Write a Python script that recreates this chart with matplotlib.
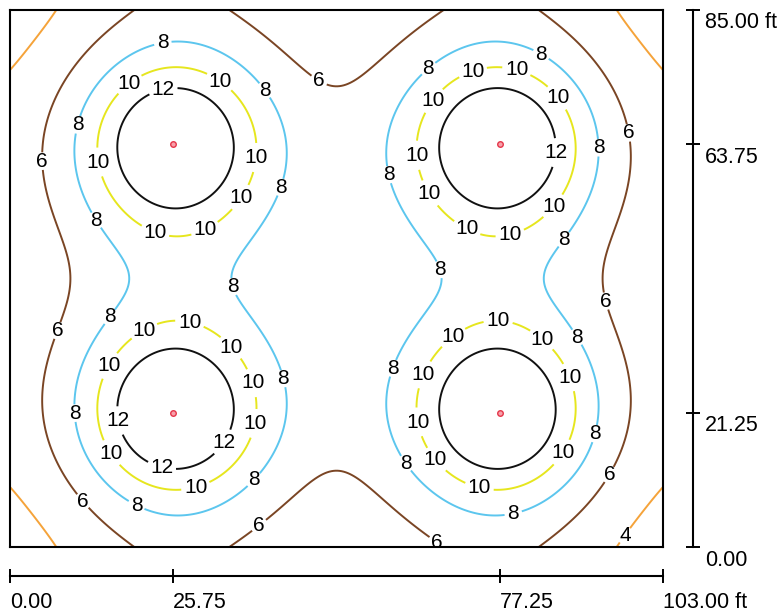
import numpy as np
import matplotlib
matplotlib.use("Agg")
import matplotlib.pyplot as plt
from matplotlib.transforms import offset_copy

plt.rcParams['font.family'] = ['Liberation Sans', 'DejaVu Sans']

# room size and luminaire layout (ft)
room_w = 103.0
room_l = 85.0
light_x = [25.75, 25.75, 77.25, 77.25]
light_y = [21.25, 63.75, 21.25, 63.75]

levels = [4, 6, 8, 10, 12]
level_colors = ['#f5a33a', '#7a4524', '#5cc6ee', '#e6e61e', '#111111']

x_ticks = [0.0, 25.75, 77.25, 103.0]
x_tick_labels = ['0.00', '25.75', '77.25', '103.00 ft']
y_ticks = [0.0, 21.25, 63.75, 85.0]
y_tick_labels = ['0.00', '21.25', '63.75', '85.00 ft']

iso_pts = {
    12: [(16.9, 63.75), (25.75, 73.0), (25.75, 53.7), (35.5, 63.75),
         (67.7, 64.1), (86.1, 64.1), (77.25, 73.0), (77.25, 53.7),
         (67.8, 21.2), (86.1, 21.2), (77.25, 31.7), (77.25, 12.7),
         (16.9, 21.2), (25.75, 31.5), (35.2, 21.2), (25.75, 12.7)],
    10: [(13.7, 63.75), (25.75, 76.3), (25.75, 48.9), (39.1, 65.5),
         (64.2, 65.9), (89.4, 62.2), (64.2, 23.3), (89.1, 22.5),
         (74.1, 35.6), (77.25, 9.3), (14.4, 23.3), (39.0, 21.7)],
    8: [(9.9, 63.75), (25.75, 80.1), (43.7, 61.3), (18.6, 43.4), (35.6, 41.5),
        (67.3, 43.6), (59.6, 23.3), (77.25, 6.3), (92.7, 21.7), (92.9, 66.0),
        (77.25, 79.8), (10.7, 24.8), (25.75, 5.9)],
    6: [(5.5, 61.1), (9.9, 43.4), (48.9, 73.1), (52.1, 14.6), (36.0, 85.0),
        (67.3, 85.0), (20.2, 0.0), (34.4, 0.0), (82.8, 0.0), (97.5, 64.1),
        (92.7, 42.3), (85.6, 85.0), (18.1, 85.0)],
    4: [(0.0, 77.1), (6.8, 85.0), (96.7, 85.0), (103.0, 76.8), (0.0, 10.1),
        (7.6, 0.0), (94.6, 0.0), (103.0, 9.8)],
}

# where the isoline values are written (approximate, snapped to the line)
label_pos = {
    4: [(95.4, 3.0)],
    6: [(5.7, 61.1), (48.7, 73.8), (97.3, 65.5), (8.2, 34.0), (93.5, 38.8),
        (12.1, 7.8), (38.3, 4.7), (68.3, 2.2), (93.8, 11.9)],
    8: [(24.1, 79.8), (10.7, 66.8), (13.7, 51.8), (40.2, 72.3), (43.1, 56.8),
        (35.2, 41.2), (67.4, 43.8),
        (65.8, 76.0), (83.9, 78.2), (59.6, 58.9), (92.7, 63.2), (87.9, 48.3),
        (15.8, 36.4), (10.4, 21.2), (20.2, 7.1), (38.2, 10.9), (42.9, 26.6),
        (60.4, 28.3), (89.4, 33.2), (92.0, 18.0), (62.8, 13.5), (79.2, 6.2)],
    10: [(18.6, 73.6), (33.4, 74.2), (13.9, 60.9), (39.1, 61.6), (36.6, 55.2),
         (23.0, 50.2), (30.8, 50.2),
         (72.9, 75.5), (80.0, 75.8), (86.8, 71.5), (66.6, 70.8), (64.2, 62.0),
         (66.2, 56.0), (86.0, 53.7), (72.1, 50.5), (78.9, 49.4),
         (21.0, 34.5), (28.4, 35.8), (35.0, 31.7), (38.3, 26.0), (38.3, 19.6),
         (15.5, 28.8), (16.1, 15.0), (29.2, 9.8),
         (77.0, 35.8), (69.9, 33.2), (84.1, 33.1), (65.5, 27.2), (88.3, 26.9),
         (64.5, 19.8), (87.2, 14.9), (67.5, 14.1), (74.1, 9.8)],
    12: [(24.1, 72.6), (86.3, 62.4), (17.7, 20.1), (33.6, 16.6), (24.0, 13.0)],
}


def light_sums(px, py, h, p):
    # direct term and first-order wall mirror term of the four fixtures
    direct = np.zeros_like(px, dtype=float)
    mirror = np.zeros_like(px, dtype=float)
    for lx, ly in zip(light_x, light_y):
        direct += (1 + ((px - lx) ** 2 + (py - ly) ** 2) / h ** 2) ** -p
        for sx, sy in [(-lx, ly), (2 * room_w - lx, ly), (lx, -ly), (lx, 2 * room_l - ly)]:
            mirror += (1 + ((px - sx) ** 2 + (py - sy) ** 2) / h ** 2) ** -p
    return direct, mirror


# fit a smooth illuminance surface through the read isoline points
tx = np.array([q[0] for lev in levels for q in iso_pts[lev]])
ty = np.array([q[1] for lev in levels for q in iso_pts[lev]])
tv = np.array([lev for lev in levels for q in iso_pts[lev]], dtype=float)
best = None
for h in np.arange(6.0, 30.01, 0.5):
    for p in np.arange(0.75, 3.01, 0.125):
        d, m = light_sums(tx, ty, h, p)
        M = np.column_stack([d, m, np.ones_like(d)])
        coef, *_ = np.linalg.lstsq(M, tv, rcond=None)
        if coef[1] < 0:
            continue
        err = np.sum((M @ coef - tv) ** 2)
        if best is None or err < best[0]:
            best = (err, h, p, coef)
_, fit_h, fit_p, fit_coef = best

xs = np.linspace(0, room_w, 320)
ys = np.linspace(0, room_l, 264)
X, Y = np.meshgrid(xs, ys)
D, Mr = light_sums(X, Y, fit_h, fit_p)
E = fit_coef[0] * D + fit_coef[1] * Mr + fit_coef[2]

fig = plt.figure(figsize=(7.79, 6.15), dpi=100)
ax = fig.add_axes([10 / 779, 68 / 615, 653 / 779, 537 / 615])
ax.set_xlim(0, room_w)
ax.set_ylim(0, room_l)

# one contour set per level so each label snaps to its own line
for lev, col in zip(levels, level_colors):
    cs = ax.contour(X, Y, E, levels=[lev], colors=[col], linewidths=1.4)
    texts = ax.clabel(cs, manual=label_pos[lev], fmt='%d', colors='black',
                      fontsize=15, inline=True, inline_spacing=3)
    for t in texts:
        t.set_rotation(0)

ax.plot(light_x, light_y, 'o', ms=4, mfc='#f7a0aa', mec='#e5364a', mew=1, zorder=5)
ax.set_xticks([])
ax.set_yticks([])
for sp in ax.spines.values():
    sp.set_linewidth(1.5)

# right-hand scale
ax_r = fig.add_axes([693 / 779, 68 / 615, 0.001, 537 / 615])
ax_r.set_ylim(0, room_l)
ax_r.patch.set_visible(False)
for name, sp in ax_r.spines.items():
    sp.set_visible(name == 'left')
ax_r.spines['left'].set_linewidth(1.5)
ax_r.set_xticks([])
ax_r.set_yticks(y_ticks)
ax_r.tick_params(axis='y', direction='inout', length=10, width=1.4, labelleft=False)
tr = offset_copy(ax_r.get_yaxis_transform(), fig=fig, x=12, y=-13, units='dots')
for v, lab in zip(y_ticks, y_tick_labels):
    ax_r.text(0, v, lab, transform=tr, ha='left', va='center', fontsize=15.5)

# bottom scale
ax_b = fig.add_axes([10 / 779, (615 - 576) / 615, 653 / 779, 0.001])
ax_b.set_xlim(0, room_w)
ax_b.patch.set_visible(False)
for name, sp in ax_b.spines.items():
    sp.set_visible(name == 'bottom')
ax_b.spines['bottom'].set_linewidth(1.5)
ax_b.set_yticks([])
ax_b.set_xticks(x_ticks)
ax_b.tick_params(axis='x', direction='inout', length=10, width=1.4, labelbottom=False)
tb = offset_copy(ax_b.get_xaxis_transform(), fig=fig, x=0, y=-27, units='dots')
for v, lab in zip(x_ticks, x_tick_labels):
    ax_b.text(v, 0, lab, transform=tb, ha='left', va='center', fontsize=15.5)

fig.savefig('out.png', dpi=100)
